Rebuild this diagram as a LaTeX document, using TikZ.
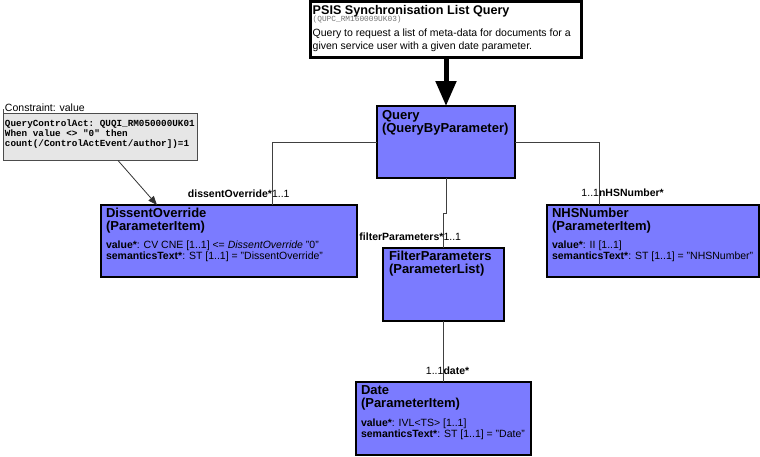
\documentclass[tikz,border=0pt]{standalone}
\usepackage{fontspec}
\setmainfont{Liberation Sans}
\setmonofont{Liberation Mono}
\usetikzlibrary{arrows.meta,calc}
\definecolor{clsfill}{HTML}{7B7BFF}
\definecolor{notefill}{HTML}{E6E6E6}
\newcommand{\clstitle}{\fontsize{13}{13}\selectfont\bfseries}
\newcommand{\clsattr}{\fontsize{10.5}{11}\selectfont}
\newcommand{\notefnt}{\fontsize{9.3}{10}\selectfont\ttfamily\bfseries}
\begin{document}
\begin{tikzpicture}[x=1pt,y=-1pt,
  cls/.style={draw=black, fill=clsfill, line width=1.5pt, anchor=north west, inner sep=0pt, outer sep=0pt},
  titlebox/.style={draw=black, fill=white, line width=3pt, anchor=north west, inner sep=0pt, outer sep=0pt},
  notebox/.style={draw=black!70, fill=notefill, line width=0.8pt, anchor=north west, inner sep=0pt, outer sep=0pt},
  txt/.style={anchor=base west, inner sep=0pt, outer sep=0pt},
  lblb/.style={anchor=base east, inner sep=0pt, outer sep=0pt, font=\fontsize{10.5}{12}\selectfont\bfseries},
  lblr/.style={anchor=base west, inner sep=0pt, outer sep=0pt, font=\fontsize{10.5}{12}\selectfont},
  lblbw/.style={anchor=base west, inner sep=0pt, outer sep=0pt, font=\fontsize{10.5}{12}\selectfont\bfseries},
  lblre/.style={anchor=base east, inner sep=0pt, outer sep=0pt, font=\fontsize{10.5}{12}\selectfont},
  conn/.style={draw=black!75, line width=0.9pt},
]
\useasboundingbox (0,0) rectangle (760,456);

% title box
\node[titlebox, minimum width=271pt, minimum height=56pt] (title) at (310.5,1.5) {};
\node[txt] (tt1) at ($(title.north west)+(2.2,12.5)$) {\fontsize{12.6}{13}\selectfont\bfseries PSIS Synchronisation List Query};
\node[txt] (tt2) at ($(title.north west)+(2.2,20)$) {\fontsize{7.8}{8}\selectfont\ttfamily\color{black!55}(QUPC\_RM160009UK03)};
\node[txt] (tt3) at ($(title.north west)+(2.2,35)$) {\parbox[t]{268pt}{\fontsize{10.5}{13}\selectfont Query to request a list of meta-data for documents for a\\given service user with a given date parameter.}};

% classes
\node[cls, minimum width=138pt, minimum height=72pt] (q) at (377,106) {};
\node[txt] (qt) at ($(q.north west)+(5,13)$) {\parbox[t]{135pt}{\clstitle Query\\(QueryByParameter)}};

\node[cls, minimum width=256pt, minimum height=72pt] (dis) at (101,205) {};
\node[txt] (dist) at ($(dis.north west)+(5,12.5)$) {\parbox[t]{250pt}{\clstitle DissentOverride\\(ParameterItem)}};
\node[txt] (disa) at ($(dis.north west)+(5,43)$) {\parbox[t]{250pt}{\clsattr \textbf{value*}: CV CNE [1..1] <= \textit{DissentOverride} "0"\\\textbf{semanticsText*}: ST [1..1] = "DissentOverride"}};

\node[cls, minimum width=121pt, minimum height=73pt] (fp) at (383,248) {};
\node[txt] (fpt) at ($(fp.north west)+(6,12.5)$) {\parbox[t]{118pt}{\clstitle FilterParameters\\(ParameterList)}};

\node[cls, minimum width=212pt, minimum height=72pt] (nhs) at (547,205) {};
\node[txt] (nhst) at ($(nhs.north west)+(5,12)$) {\parbox[t]{205pt}{\clstitle NHSNumber\\(ParameterItem)}};
\node[txt] (nhsa) at ($(nhs.north west)+(5,43)$) {\parbox[t]{205pt}{\clsattr \textbf{value*}: II [1..1]\\\textbf{semanticsText*}: ST [1..1] = "NHSNumber"}};

\node[cls, minimum width=175pt, minimum height=73pt] (date) at (356,382) {};
\node[txt] (datet) at ($(date.north west)+(5,12.5)$) {\parbox[t]{170pt}{\clstitle Date\\(ParameterItem)}};
\node[txt] (datea) at ($(date.north west)+(5,44)$) {\parbox[t]{170pt}{\clsattr \textbf{value*}: IVL<TS> [1..1]\\\textbf{semanticsText*}: ST [1..1] = "Date"}};

% note
\node[notebox, minimum width=194pt, minimum height=47pt] (note) at (3,113.5) {};
\draw[draw=black!70, line width=0.8pt] (note.north west) -- ++(0,-5);
\node[anchor=base west, fill=white, inner xsep=1pt, inner ysep=1.5pt, outer sep=0pt] (notelbl) at (4,111.5) {\fontsize{10.5}{12}\selectfont Constraint: value};
\node[txt] (notetxt) at (5,126.5) {\parbox[t]{192pt}{\notefnt QueryControlAct: QUQI\_RM050000UK01\\When value <> "0" then\\count(/ControlActEvent/author])=1}};

% connectors
\draw[line width=5pt, -{Triangle[width=20pt,length=25pt]}] (title.south) -- (q.north);
\draw[conn] (q.west) -| ($(dis.north west)+(171,0)$);
\draw[conn] (q.east) -| ($(nhs.north west)+(52,0)$);
\draw[conn] (q.south) -- ($(q.south)+(0,35)$) -| (fp.north);
\draw[conn] (fp.south) -- (date.north);
\draw[draw=black!80, line width=0.8pt, -{Triangle[width=7pt,length=9pt]}] ($(note.south west)+(115,0)$) -- ($(dis.north west)+(56,0)$);

% role labels
\node[lblb] (l1a) at (272,197) {dissentOverride*};
\node[lblr] (l1b) at (272,197) {1..1};
\node[lblb] (l2a) at (443.5,240) {filterParameters*};
\node[lblr] (l2b) at (443.5,240) {1..1};
\node[lblre] (l3a) at (599,196) {1..1};
\node[lblbw] (l3b) at (599,196) {nHSNumber*};
\node[lblre] (l4a) at (443.5,374) {1..1};
\node[lblbw] (l4b) at (443.5,374) {date*};
\end{tikzpicture}
\end{document}
